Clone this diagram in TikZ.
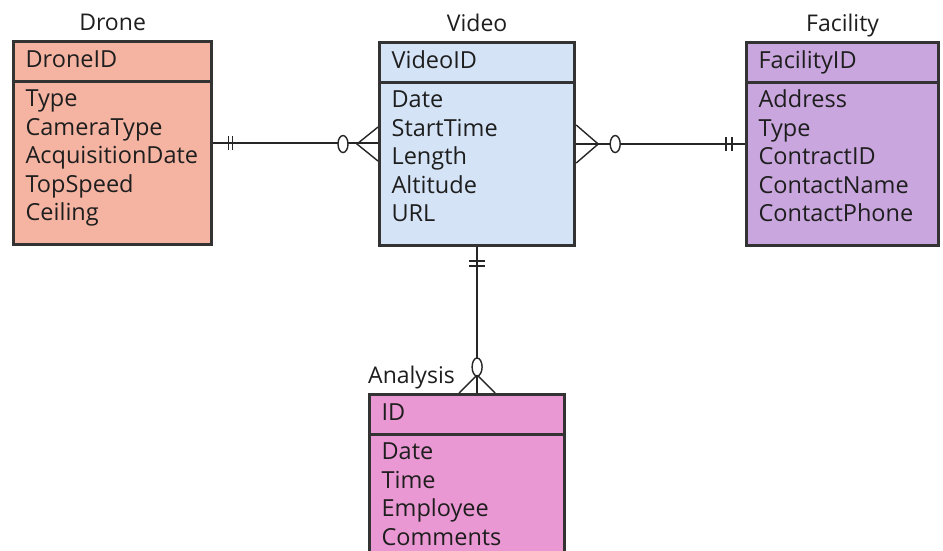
\documentclass[tikz,border=0pt]{standalone}
\usepackage{fontspec}
\setmainfont{Open Sans}
\usetikzlibrary{positioning, shapes.multipart}

\definecolor{dronefill}{RGB}{245,180,162}
\definecolor{videofill}{RGB}{212,227,246}
\definecolor{facilityfill}{RGB}{201,166,221}
\definecolor{analysisfill}{RGB}{234,152,211}
\definecolor{inkgray}{RGB}{30,30,30}

% extra room under the last attribute
\newcommand\bodyend[1]{\rule[-#1]{0pt}{#1}}

\tikzset{
  entity/.style={rectangle split, rectangle split parts=2, draw=black!80,
    line width=3.2pt, anchor=north west, inner xsep=12pt, inner ysep=4pt,
    align=left, text=inkgray, font=\fontsize{23.5}{28.5}\selectfont},
  title/.style={inner sep=0pt, text depth=0pt, text=inkgray,
    font=\fontsize{23}{28.5}\selectfont},
  link/.style={line width=1.4pt, draw=black!85},
}

\begin{document}
\begin{tikzpicture}[x=1pt,y=-1pt]
\useasboundingbox[fill=white] (0,0) rectangle (943,551);

% entities
\node[entity, fill=dronefill, text width=174pt] (drone) at (12,40)
  {\strut DroneID\nodepart{two}\strut Type\\CameraType\\AcquisitionDate\\TopSpeed\\Ceiling\bodyend{18pt}};
\node[entity, fill=videofill, text width=171pt] (video) at (378,41)
  {\strut VideoID\nodepart{two}\strut Date\\StartTime\\Length\\Altitude\\URL\bodyend{18pt}};
\node[entity, fill=facilityfill, text width=168pt] (facility) at (745,41)
  {\strut FacilityID\nodepart{two}\strut Address\\Type\\ContractID\\ContactName\\ContactPhone\bodyend{18pt}};
\node[entity, fill=analysisfill, text width=171pt] (analysis) at (368,393)
  {\strut ID\nodepart{two}\strut Date\\Time\\Employee\\Comments\strut};

% titles
\node[title, above=9pt of drone] (dronetitle) {Drone};
\node[title, above=9pt of video] (videotitle) {Video};
\node[title, above=9pt of facility] (facilitytitle) {Facility};
\node[title, anchor=base west] (analysistitle) at ([yshift=10pt]analysis.north west) {Analysis};

% Drone -- Video (one to zero-or-many)
\draw[link] (drone.east) -- (drone.east -| video.west);
\draw[link] ([xshift=15pt,yshift=7pt]drone.east) -- ++(0pt,-14pt);
\draw[link] ([xshift=19pt,yshift=7pt]drone.east) -- ++(0pt,-14pt);
\draw[link] ([yshift=17pt]video.west) -- ([xshift=-21pt]video.west) -- ([yshift=-17pt]video.west);
\draw[link, fill=white] ([xshift=-35pt]video.west) ellipse (5pt and 8.5pt);

% Video -- Facility (zero-or-many to one)
\draw[link] (video.east) -- (video.east -| facility.west);
\draw[link] ([yshift=19pt]video.east) -- ([xshift=22pt]video.east) -- ([yshift=-19pt]video.east);
\draw[link, fill=white] ([xshift=39pt]video.east) ellipse (5pt and 8.5pt);
\draw[link] ([xshift=-19pt,yshift=7pt]facility.west) -- ++(0pt,-14pt);
\draw[link] ([xshift=-13pt,yshift=7pt]facility.west) -- ++(0pt,-14pt);

% Video -- Analysis (one to zero-or-many)
\coordinate (footv) at (video.south |- analysis.north);
\draw[link] (video.south) -- (footv);
\draw[link] ([xshift=-8pt,yshift=-14pt]video.south) -- ++(16pt,0pt);
\draw[link] ([xshift=-8pt,yshift=-19pt]video.south) -- ++(16pt,0pt);
\draw[link] ([xshift=-18pt]footv) -- ([yshift=18pt]footv) -- ([xshift=18pt]footv);
\draw[link, fill=white] ([yshift=26pt]footv) ellipse (5pt and 9pt);
\end{tikzpicture}
\end{document}
